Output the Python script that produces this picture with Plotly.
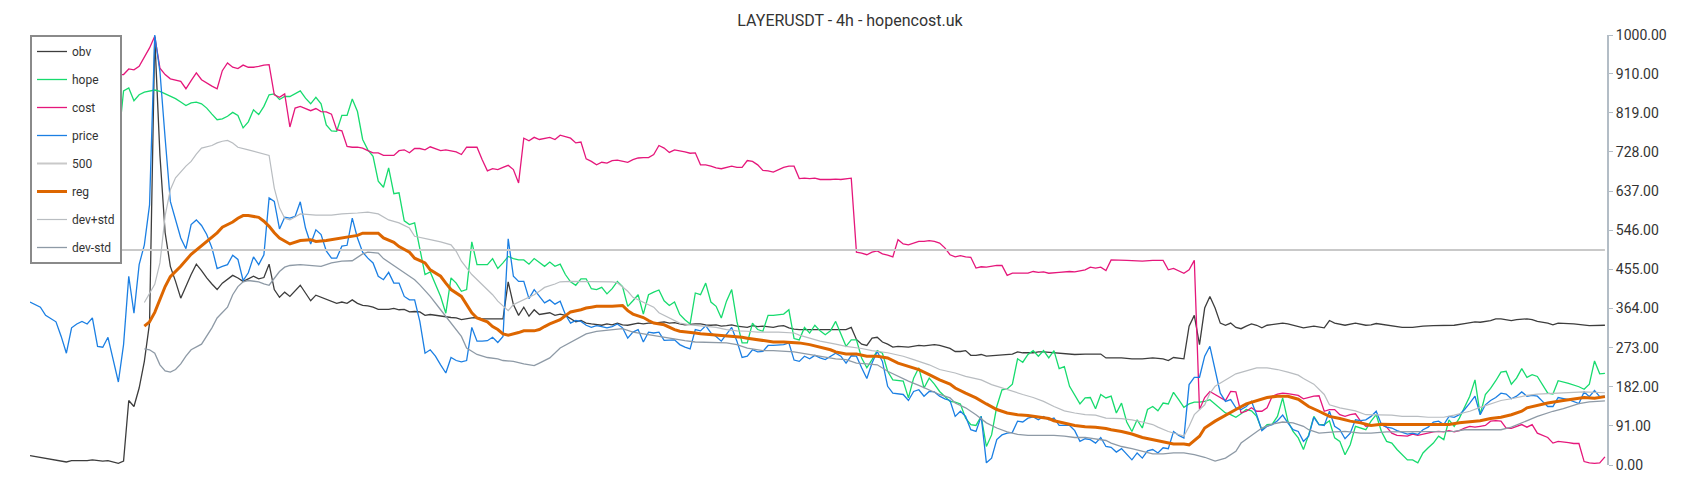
import plotly.graph_objects as go

# x = candle index (4h bars), y = value
obv = [(0,22),(2,18),(4,14),(5,12),(7,7),(8,10),(11,10),(12,12),(14,9),(15,10),(17,4),(18,9),(19,150),(20,136),(21,179),(22,241),(23,330),(24,995),(25,720),(26,540),(27,462),(28,427),(29,388),(31,443),(32,467),(33,452),(34,435),(35,421),(36,408),(37,423),(38,433),(39,441),(40,435),(41,427),(42,433),(43,439),(44,433),(45,436),(46,467),(47,408),(48,390),
       (49,402),(50,392),(51,404),(52,418),(53,400),(54,382),(55,395),(56,390),(57,385),(58,381),(59,376),(60,379),(61,376),(62,384),(63,376),(64,371),(65,370),(66,367),(67,362),(69,362),(70,364),(71,361),(72,362),(73,356),(74,357),(75,356),(76,348),(77,350),(78,348),(80,345),(81,343),(82,342),(83,338),(85,342),(86,343),(87,340),(88,340),(90,339),(91,340),(92,426),(93,373),(94,348),(95,367),(96,346),(97,361),
       (98,350),(100,354),(101,348),(102,351),(103,348),(104,340),(105,333),(106,336),(107,330),(108,328),(109,326),(110,325),(111,328),(112,326),(113,330),(114,326),(115,325),(117,330),(118,328),(119,330),(120,330),(121,331),(122,333),(123,330),(124,331),(125,328),(126,326),(128,328),(129,328),(130,326),(131,325),(132,326),(133,323),(134,324),(135,326),(136,323),(138,320),(139,324),(140,322),(141,323),(143,320),(144,323),(145,324),(146,319),(147,316),
       (148,315),(151,315),(154,315),(157,315),(158,320),(159,292),(160,281),(161,278),(162,295),(163,297),(164,286),(165,281),(166,274),(167,276),(169,274),(170,276),(171,278),(172,277),(174,280),(175,278),(176,274),(177,271),(178,264),(179,264),(180,266),(181,255),(182,255),(183,257),(184,253),(186,255),(187,257),(188,258),(189,258),(190,263),(191,261),(193,261),(194,263),(195,263),
       (197,261),(199,258),(201,257),(203,258),(206,258),(207,249),(208,249),(210,249),(212,247),(214,247),(216,249),(218,247),(219,243),(220,250),(222,247),(223,323),(224,348),(225,280),(226,365),(227,392),(228,365),(229,330),(230,325),(231,330),(232,320),(233,317),(234,323),(235,328),(236,325),(237,319),(238,325),(240,328),(241,330),(242,328),(244,323),(245,319),
       (247,323),(248,321),(249,319),(250,336),(251,330),(253,325),(254,328),(255,330),(257,325),(258,326),(259,329),(261,326),(262,324),(264,320),(266,320),(268,323),(270,324),(272,324),(274,325),(276,329),(278,333),(279,332),(281,336),(282,340),(283,340),(285,336),(286,338),(288,340),(289,338),(290,334),(292,330),(293,326),(294,330),(297,328),(300,324),(303,325)]

hope = [(16,908),(17,751),(18,870),(19,877),(20,847),(21,861),(22,867),(23,870),(24,872),(25,869),(26,863),(28,852),(29,844),(30,836),(31,842),(32,844),(33,840),(34,830),(35,816),(36,803),(37,805),(38,811),(39,820),(40,813),(41,784),(42,798),(43,826),(44,815),(45,834),(46,861),(47,863),(48,850),
        (49,857),(50,857),(52,870),(53,853),(54,840),(55,855),(56,840),(57,791),(58,777),(59,776),(60,813),(61,813),(62,851),(63,822),(64,757),(65,733),(66,718),(67,660),(68,646),(69,691),(70,631),(71,633),(72,568),(73,559),(74,563),(75,505),(76,443),(77,449),(78,419),(79,392),(80,353),(81,435),(82,423),(83,404),(84,408),(85,519),(86,466),(87,466),(88,466),(89,480),(90,457),(91,470),(92,485),(93,480),(94,477),(95,477),(96,467),(97,480),
        (99,462),(100,472),(101,462),(102,467),(103,443),(104,426),(105,418),(106,433),(107,433),(108,410),(109,408),(110,413),(111,398),(112,410),(113,427),(114,415),(115,369),(116,382),(117,396),(118,351),(119,396),(120,402),(121,407),(122,382),(123,371),(124,379),(125,350),(126,338),(127,328),(128,400),(129,396),(130,423),(131,379),(132,369),(133,342),(134,381),(135,408),(136,334),(137,284),(138,284),(139,330),(140,315),(141,311),(142,348),(143,348),(145,351),(146,361),(147,294),
        (148,291),(149,320),(150,307),(151,325),(152,312),(153,303),(154,312),(155,334),(156,307),(157,276),(158,291),(159,291),(160,249),(161,226),(162,245),(163,266),(164,260),(165,218),(166,198),(167,196),(168,195),(169,156),(170,202),(171,226),(172,179),(173,202),(174,188),(175,171),(176,160),(177,148),(178,146),(179,142),(180,109),(181,94),(182,92),(183,113),(184,43),(185,70),(186,136),(187,175),(188,177),(189,188),(190,247),(191,239),(192,257),(193,266),(194,253),(195,266),
        (196,249),(197,266),(198,224),(199,229),(200,183),(202,142),(203,156),(204,157),(205,131),(206,164),(207,156),(208,160),(209,121),(210,144),(211,100),(212,78),(213,105),(214,86),(215,129),(216,136),(217,126),(218,144),(219,142),(220,169),(221,152),(222,134),(223,142),(224,146),(225,146),(226,148),(227,152),(228,142),(229,133),(230,121),(231,117),(232,111),(233,119),(234,129),(235,126),(236,113),(237,82),(238,94),(239,95),(240,113),(241,156),(242,102),(243,78),(244,63),(245,36),
        (246,70),(247,113),(248,94),(249,94),(250,103),(251,63),(252,55),(253,24),(254,47),(255,90),(256,86),(257,82),(258,102),(259,117),(260,78),(261,55),(262,51),(263,36),(265,12),(266,12),(267,5),(268,28),(269,40),(270,51),(271,67),(272,59),(273,105),(274,90),(275,109),(276,133),(277,160),(278,198),(279,117),(280,164),(281,178),(282,196),(283,216),(284,218),(285,188),(286,202),(287,224),(288,204),(289,210),(290,206),(291,185),(292,167),(293,165),(294,196),
        (296,190),(298,182),(299,176),(300,188),(301,242),(302,212),(303,213)]

cost = [(16,908),(18,908),(19,921),(20,919),(21,927),(22,947),(23,970),(24,997),(25,923),(26,908),(27,898),(29,892),(30,875),(31,894),(32,912),(33,896),(34,888),(35,881),(36,875),(37,917),(38,935),(39,925),(40,922),(41,930),(42,925),(43,925),(44,927),(45,930),(46,931),(47,861),(48,855),
        (49,863),(50,786),(51,830),(52,834),(53,829),(54,824),(55,829),(56,822),(57,821),(58,816),(59,780),(60,777),(61,741),(62,739),(63,739),(64,737),(65,731),(66,726),(67,726),(68,720),(69,720),(70,720),(71,731),(72,733),(73,726),(74,736),(75,736),(76,733),(77,740),(78,736),(79,731),(80,733),(81,731),(82,728),(83,722),(84,739),(85,739),(86,739),(87,710),(88,684),(89,689),(90,687),(91,692),(92,697),(93,687),(94,656),(95,760),(96,754),(97,762),
        (98,757),(100,762),(101,757),(102,767),(103,764),(104,760),(105,749),(106,751),(107,712),(108,706),(109,698),(110,704),(111,702),(112,708),(113,709),(114,706),(115,704),(116,710),(117,714),(118,715),(119,715),(120,722),(121,743),(122,737),(123,727),(124,733),(125,731),(126,728),(127,725),(128,726),(129,698),(130,698),(131,695),(132,691),(133,689),(134,692),(135,695),(136,692),(137,692),(138,708),(139,706),(140,698),(141,685),(142,684),(143,681),(145,692),(146,695),(147,695),
        (148,666),(149,667),(150,666),(151,667),(152,664),(154,664),(155,665),(156,664),(157,666),(158,667),(159,495),(160,493),(161,489),(162,495),(163,498),(164,491),(165,488),(166,484),(167,524),(168,514),(169,512),(170,516),(171,520),(172,520),(173,522),(174,520),(175,516),(176,505),(177,489),(178,484),(179,487),(180,484),(181,483),(182,458),(183,461),(184,460),(185,462),(186,464),(187,464),(188,441),(189,446),(190,446),(191,445),(192,446),(193,450),(194,448),(195,449),
        (196,446),(198,448),(200,450),(201,449),(203,454),(204,460),(205,458),(206,460),(207,452),(208,477),(209,477),(211,476),(214,474),(216,476),(218,476),(219,454),(220,457),(222,446),(223,454),(224,476),(225,129),(226,157),(227,171),(228,164),(229,157),(230,150),(231,171),(232,170),(233,121),(234,125),(235,133),(236,125),(237,125),(238,133),(239,160),(240,165),(241,167),(242,166),(244,162),(245,154),
        (247,160),(248,161),(249,125),(250,129),(251,129),(252,117),(253,113),(254,117),(255,119),(256,102),(257,90),(258,92),(259,94),(260,94),(261,88),(262,74),(263,69),(265,67),(266,72),(267,69),(268,72),(269,74),(270,77),(271,78),(272,77),(273,80),(274,77),(275,80),(276,86),(277,90),(278,88),(279,90),(280,92),(281,102),(282,103),(283,102),(284,86),(285,85),(286,90),(287,94),(288,88),(289,94),(290,74),(291,69),(292,64),(293,51),(294,55),
        (296,52),(297,50),(298,50),(299,8),(300,5),(301,4),(302,5),(303,19)]

price = [(0,379),(2,367),(3,348),(5,333),(6,299),(7,260),(8,319),(9,328),(10,334),(11,328),(12,342),(13,276),(14,274),(15,297),(16,245),(17,193),(18,280),(19,439),(20,353),(21,466),(22,512),(23,605),(24,1000),(25,915),(26,760),(27,613),(29,528),(30,503),(31,559),(32,570),(33,557),(34,536),(35,505),(36,457),(37,462),(38,466),(39,488),(40,478),(41,429),(42,447),(43,484),(44,466),(45,489),(46,621),(47,613),(48,549),
         (49,576),(50,574),(51,578),(52,612),(53,551),(54,514),(55,547),(56,536),(57,498),(58,481),(59,481),(60,509),(61,511),(62,574),(63,528),(64,495),(65,481),(66,470),(67,439),(68,431),(69,448),(70,423),(71,423),(72,392),(73,384),(74,384),(75,334),(76,260),(77,268),(78,253),(79,233),(80,214),(81,250),(82,243),(83,240),(84,243),(85,320),(86,288),(87,288),(88,289),(89,297),(90,285),(91,299),(92,526),(93,439),(94,427),(95,427),(96,387),(97,408),
         (99,377),(100,384),(101,374),(102,381),(103,350),(104,330),(105,336),(106,334),(107,325),(108,320),(109,324),(110,322),(111,319),(112,322),(113,328),(114,319),(115,295),(116,309),(117,315),(118,286),(119,309),(120,307),(121,309),(122,290),(123,291),(124,291),(125,280),(126,274),(127,270),(128,315),(129,312),(130,324),(131,307),(132,299),(133,288),(134,303),(135,320),(136,288),(137,250),(138,253),(139,268),(140,263),(141,264),(142,278),(143,278),(145,280),(146,284),(147,244),
         (148,241),(149,253),(150,247),(151,255),(152,249),(153,245),(154,253),(155,260),(156,253),(157,237),(158,254),(159,253),(160,226),(161,201),(162,237),(163,264),(164,241),(165,183),(166,167),(167,165),(168,164),(169,150),(170,171),(171,175),(172,160),(173,171),(174,170),(175,160),(176,154),(177,150),(178,113),(179,125),(180,113),(181,82),(182,78),(183,113),(184,5),(185,16),(186,59),(187,70),(188,74),(189,76),(190,102),(191,100),(192,109),(193,112),(194,105),(195,113),
         (196,105),(197,109),(198,92),(200,92),(201,80),(202,55),(203,61),(204,59),(205,51),(206,64),(207,43),(208,41),(209,30),(210,38),(211,24),(212,12),(213,28),(214,16),(215,33),(216,36),(217,28),(218,40),(219,38),(220,78),(221,69),(222,63),(223,187),(224,204),(225,204),(226,253),(227,276),(228,218),(229,167),(230,148),(231,152),(232,133),(233,129),(234,136),(235,148),(236,117),(237,80),(238,90),(239,94),(240,103),(241,116),(242,98),(243,82),(244,78),(245,55),
         (246,67),(247,111),(248,94),(249,92),(250,125),(251,90),(252,82),(253,61),(254,74),(255,105),(256,103),(257,105),(258,113),(259,125),(260,94),(261,88),(262,86),(263,80),(265,72),(266,74),(267,71),(268,82),(269,88),(270,100),(271,102),(272,94),(273,113),(274,111),(275,117),(276,129),(277,144),(278,160),(279,117),(280,140),(281,150),(282,157),(283,167),(284,165),(285,154),(286,160),(287,170),(288,160),(289,162),(290,160),(291,148),(292,136),(293,136),(294,157),
         (296,152),(298,143),(299,170),(300,159),(301,173),(302,159),(303,160)]

level_500 = [(0, 500), (303, 500)]

reg = [(22,323),(23,333),(24,355),(25,385),(26,415),(27,438),(29,462),(31,490),(33,510),(34,522),(36,540),(37,553),(39,565),(40,574),(41,580),(42,580),(44,576),(45,567),(46,555),(47,540),(48,528),(50,514),(51,518),(52,522),(54,524),(55,520),(57,522),(58,524),(60,528),(61,530),(63,534),(64,539),(66,540),(67,539),(68,528),(70,518),(71,508),(73,495),(74,481),(76,470),(77,454),(79,439),(80,423),(81,408),(83,392),(84,374),(85,354),(86,342),(88,333),(89,322),(90,315),(91,305),(92,302),(94,308),(95,312),(97,312),
       (98,315),(99,322),(100,328),(102,338),(103,348),(104,356),(106,361),(107,365),(108,367),(109,369),(111,369),(112,369),(114,371),(115,359),(116,351),(118,343),(119,336),(120,330),(122,326),(123,320),(124,315),(125,311),(127,309),(128,307),(129,305),(131,303),(132,303),(133,302),(135,299),(137,297),(138,295),(140,292),(142,288),(143,286),(145,286),(147,285),
       (148,284),(150,280),(152,274),(154,268),(155,263),(157,258),(159,258),(161,253),(163,253),(165,249),(167,237),(169,230),(171,222),(173,210),(175,198),(177,188),(178,179),(180,167),(182,156),(184,142),(186,129),(188,121),(190,117),(192,115),(194,111),(196,108),
       (197,103),(199,98),(201,92),(203,89),(205,88),(207,85),(208,82),(210,78),(212,72),(214,64),(216,59),(218,54),(220,49),(222,49),(223,47),(225,67),(226,86),(228,102),(230,116),(232,129),(234,142),(236,150),(238,157),(240,160),(242,160),(244,153),
       (246,136),(248,125),(250,113),(252,108),(254,102),(256,98),(258,92),(260,95),(262,94),(266,94),(270,94),(273,94),(275,98),(277,100),(279,103),(281,108),(283,111),(285,117),(287,125),(288,133),(290,139),(292,144),(295,150),(297,153),(299,157),(301,155),(303,159)]

dev_plus = [(22,378),(23,398),(24,420),(25,470),(26,580),(27,640),(28,668),(30,695),(31,706),(32,723),(33,737),(35,743),(36,749),(37,753),(38,755),(39,749),(40,739),(42,733),(43,730),(44,726),(46,720),(47,644),(48,598),(49,574),(50,570),(52,584),(55,581),(58,581),(60,584),(63,586),(65,588),(67,584),(69,570),(71,563),(73,551),(74,532),(76,526),(77,524),(79,519),(81,512),(82,497),(83,474),(85,443),(87,419),(89,396),(90,381),(91,369),(92,359),(93,373),(95,384),(96,390),(97,396),
            (98,404),(99,413),(101,421),(102,426),(104,427),(106,427),(108,427),(110,427),(112,426),(113,424),(115,404),(116,390),(118,379),(120,367),(121,354),(123,342),(125,330),(127,326),(128,325),(130,323),(132,320),(134,315),(136,312),(138,311),(140,309),(142,309),(144,309),(147,307),
            (148,302),(150,295),(152,288),(155,281),(157,276),(160,271),(162,266),(165,261),(168,253),(170,245),(173,233),(175,222),(178,214),(180,206),(183,198),(185,187),(187,179),(189,171),(191,164),(193,157),(195,148),
            (197,136),(199,126),(201,121),(203,117),(205,116),(207,109),(210,108),(212,105),(214,100),(216,94),(217,88),(219,78),(221,71),(222,67),(223,90),(224,117),(226,140),(227,167),(228,183),(230,198),(232,212),(234,219),(236,226),(238,226),(240,222),(242,216),(244,209),(245,201),
            (247,188),(249,164),(250,140),(252,133),(255,126),(257,117),(259,116),(262,116),(264,113),(267,113),(269,111),(272,111),(274,116),(277,125),(279,134),(281,142),(283,150),(285,154),(288,162),(290,165),(293,167),(295,167),(299,170),(303,168)]

dev_minus = [(22,270),(23,268),(24,260),(25,233),(26,219),(27,216),(28,222),(29,235),(30,253),(31,268),(33,281),(34,299),(35,319),(36,342),(38,367),(39,396),(40,415),(41,426),(42,429),(44,426),(45,421),(46,418),(47,433),(48,450),(49,460),(50,464),(52,466),(54,464),(56,462),(58,470),(60,474),(62,475),(64,491),(65,495),(67,493),(68,480),(70,464),(72,449),(74,431),(75,419),(77,392),(79,361),(81,330),(83,299),(84,272),(86,257),(88,250),(90,247),(91,243),(93,241),(95,235),(97,231),
             (98,237),(100,249),(102,272),(105,292),(107,305),(109,311),(112,315),(114,317),(116,309),(118,305),(121,299),(123,294),(126,289),(128,286),(131,285),(134,284),(136,280),(138,272),(141,266),(143,266),(147,263),
             (150,257),(152,253),(154,249),(155,247),(157,245),(159,237),(161,235),(163,233),(165,218),(167,206),(169,195),(171,185),(173,175),(175,164),(177,156),(178,144),(180,133),(182,117),(184,98),(186,86),(188,77),(190,71),(192,69),(194,69),(196,70),
             (197,69),(199,67),(201,64),(203,64),(205,61),(207,57),(208,51),(210,43),(212,38),(214,32),(216,26),(218,26),(220,28),(222,28),(224,24),(226,18),(228,9),(230,16),(232,32),(233,51),(235,69),(237,86),(239,95),(241,100),(243,98),(245,90),
             (246,82),(248,74),(251,77),(253,78),(256,74),(258,74),(261,77),(263,77),(266,77),(269,78),(271,78),(274,78),(276,82),(279,82),(281,82),(283,82),(285,88),(288,102),(290,113),(293,125),(295,131),(298,143),(300,147),(303,149)]

tick_vals = [0, 91, 182, 273, 364, 455, 546, 637, 728, 819, 910, 1000]

series = [
    ("obv", obv, "#3d3d3d", 1.3),
    ("hope", hope, "#17db6e", 1.3),
    ("cost", cost, "#e5177b", 1.3),
    ("price", price, "#1b7fe3", 1.3),
    ("500", level_500, "#c9c9c9", 2),
    ("reg", reg, "#dd6600", 3),
    ("dev+std", dev_plus, "#b9bdc1", 1.2),
    ("dev-std", dev_minus, "#8e9aa6", 1.3),
]

fig = go.Figure()
for name, pts, color, width in series:
    xs, ys = zip(*pts)
    fig.add_trace(go.Scatter(x=list(xs), y=list(ys), name=name, mode="lines",
                             legendgroup=name, line=dict(color=color, width=width)))

axis_col = "#b3bdc6"
fig.update_layout(
    width=1700, height=500,
    margin=dict(l=30, r=93, t=35, b=35),
    paper_bgcolor="white", plot_bgcolor="white",
    title=dict(text="LAYERUSDT - 4h - hopencost.uk", x=0.5, xanchor="center",
               y=1 - 20.5 / 500, yanchor="middle",
               font=dict(family="Roboto", size=16, color="#333333")),
    xaxis=dict(visible=False, range=[0, 303.4]),
    yaxis=dict(side="right", range=[0, 1000], tickvals=tick_vals,
               ticktext=[f"{v:.2f}" for v in tick_vals],
               showline=True, linecolor=axis_col, linewidth=2,
               ticks="outside", ticklen=4, tickcolor=axis_col, tickwidth=1,
               tickfont=dict(family="Roboto", size=14, color="#333333"),
               showgrid=False, zeroline=False),
    legend=dict(x=0, y=1, xanchor="left", yanchor="top", bgcolor="white",
                bordercolor="#8a8a8a", borderwidth=2, tracegroupgap=9, itemwidth=30,
                font=dict(family="Roboto", size=12, color="#333333")),
    showlegend=True,
)

fig.write_html("out.html", config={"displayModeBar": False},
               post_script="document.body.style.margin='0';document.body.style.overflow='hidden';")
